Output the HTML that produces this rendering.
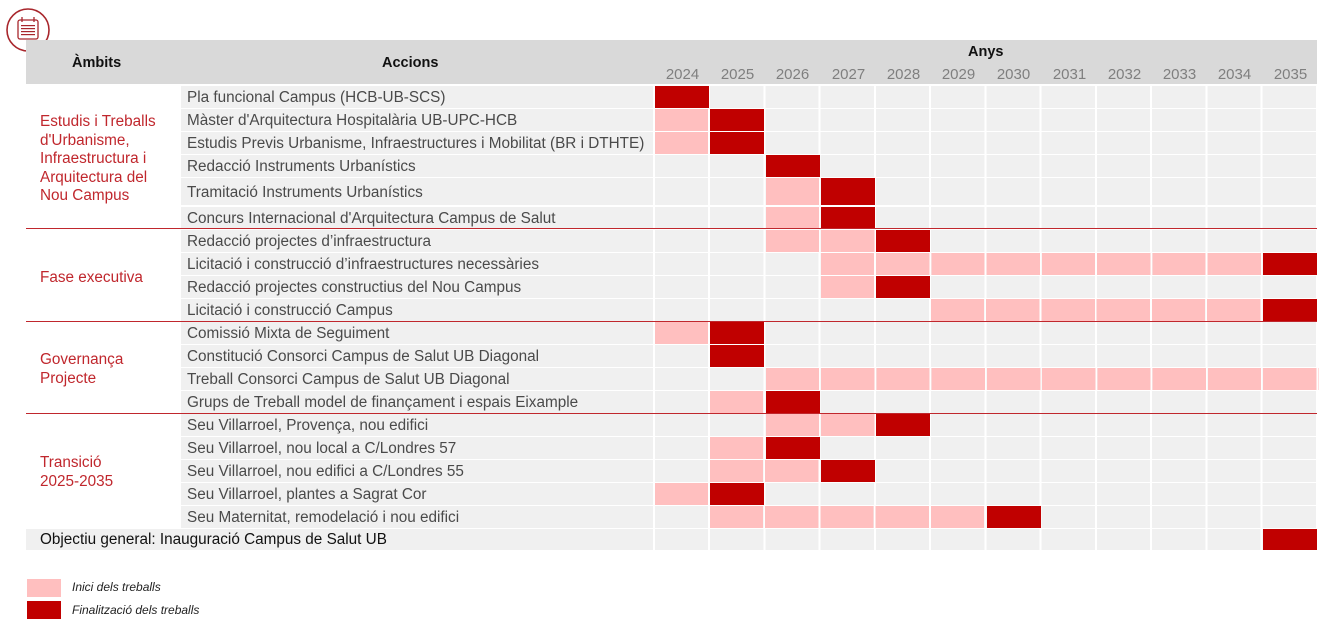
<!DOCTYPE html>
<html><head><meta charset="utf-8"><style>
body{margin:0;width:1325px;height:625px;background:#fff;position:relative;overflow:hidden;font-family:"Liberation Sans",Arial,sans-serif}
.a{position:absolute}
.hd{left:26px;top:40px;width:1291px;height:44px;background:#d9d9d9}
.h{font-weight:bold;font-size:14.5px;color:#111}
.yr{font-size:15px;color:#7f7f7f;width:55px;text-align:center;top:66px}
.r{position:absolute;left:181px;width:1136px}
.r .t{position:absolute;left:0;top:0;bottom:0;width:472px;background:#f0f0f0;font-size:15.3px;color:#4a4a4a;padding-left:6px;padding-top:2px;box-sizing:border-box;display:flex;align-items:center;white-space:nowrap}
.r .g{position:absolute;left:474px;top:0;bottom:0;width:663px;background:repeating-linear-gradient(to right,#f0f0f0 0,#f0f0f0 53.25px,#fff 53.25px,#fff 55.25px)}
.b{position:absolute;top:0;bottom:0;width:54px}
.p{background:repeating-linear-gradient(to right,#ffbfbf 0,#ffbfbf 53.25px,transparent 53.25px,transparent 55.25px)}.d{background:#c00000}
.lg.p{background:#ffbfbf}
.ln{position:absolute;left:26px;width:1291px;height:1px;background:#c0272d}
.grp{position:absolute;left:40px;font-size:15.3px;color:#c0272d;line-height:18.5px}
.lg{position:absolute;left:27px;width:34px;height:18px}
.lt{position:absolute;left:72px;font-size:12px;font-style:italic;color:#222}
</style></head><body>
<svg class="a" style="left:5px;top:7px" width="46" height="46" viewBox="0 0 46 46">
<circle cx="23" cy="23" r="21" fill="none" stroke="#a8262c" stroke-width="1.6"/>
<rect x="13" y="13" width="20" height="19" rx="2" fill="none" stroke="#a8262c" stroke-width="1.3"/>
<line x1="17" y1="10" x2="17" y2="15" stroke="#a8262c" stroke-width="1.3"/>
<line x1="29" y1="10" x2="29" y2="15" stroke="#a8262c" stroke-width="1.3"/>
<g fill="#a8262c"><rect x="16" y="18" width="14" height="1.2"/><rect x="16" y="21" width="14" height="1.2"/><rect x="16" y="24" width="14" height="1.2"/><rect x="16" y="27" width="14" height="1.2"/></g>
</svg>
<div class="a hd"></div>
<div class="a h" style="left:72px;top:55px">Àmbits</div>
<div class="a h" style="left:382px;top:55px">Accions</div>
<div class="a h" style="left:968px;top:44px">Anys</div>
<div class="a yr" style="left:655px">2024</div><div class="a yr" style="left:710px">2025</div><div class="a yr" style="left:765px">2026</div><div class="a yr" style="left:821px">2027</div><div class="a yr" style="left:876px">2028</div><div class="a yr" style="left:931px">2029</div><div class="a yr" style="left:986px">2030</div><div class="a yr" style="left:1042px">2031</div><div class="a yr" style="left:1097px">2032</div><div class="a yr" style="left:1152px">2033</div><div class="a yr" style="left:1207px">2034</div><div class="a yr" style="left:1263px">2035</div>

<div class="r" style="top:86px;height:22px"><div class="t">Pla funcional Campus (HCB-UB-SCS)</div><div class="g"><div class="b d" style="left:0"></div></div></div>
<div class="r" style="top:109px;height:22px"><div class="t">Màster d'Arquitectura Hospitalària UB-UPC-HCB</div><div class="g"><div class="b p" style="left:0"></div><div class="b d" style="left:55.25px"></div></div></div>
<div class="r" style="top:132px;height:22px"><div class="t">Estudis Previs Urbanisme, Infraestructures i Mobilitat (BR i DTHTE)</div><div class="g"><div class="b p" style="left:0"></div><div class="b d" style="left:55.25px"></div></div></div>
<div class="r" style="top:155px;height:22px"><div class="t">Redacció Instruments Urbanístics</div><div class="g"><div class="b d" style="left:110.5px"></div></div></div>
<div class="r" style="top:178px;height:27px"><div class="t">Tramitació Instruments Urbanístics</div><div class="g"><div class="b p" style="left:110.5px"></div><div class="b d" style="left:165.75px"></div></div></div>
<div class="r" style="top:207px;height:21px"><div class="t">Concurs Internacional d'Arquitectura Campus de Salut</div><div class="g"><div class="b p" style="left:110.5px"></div><div class="b d" style="left:165.75px"></div></div></div>
<div class="ln" style="top:228px"></div>
<div class="r" style="top:230px;height:22px"><div class="t">Redacció projectes d’infraestructura</div><div class="g"><div class="b p" style="left:110.5px;width:110px"></div><div class="b d" style="left:221px"></div></div></div>
<div class="r" style="top:253px;height:22px"><div class="t">Licitació i construcció d’infraestructures necessàries</div><div class="g"><div class="b p" style="left:165.75px;width:442px"></div><div class="b d" style="left:607.75px"></div></div></div>
<div class="r" style="top:276px;height:22px"><div class="t">Redacció projectes constructius del Nou Campus</div><div class="g"><div class="b p" style="left:165.75px"></div><div class="b d" style="left:221px"></div></div></div>
<div class="r" style="top:299px;height:22px"><div class="t">Licitació i construcció Campus</div><div class="g"><div class="b p" style="left:276.25px;width:331px"></div><div class="b d" style="left:607.75px"></div></div></div>
<div class="ln" style="top:321px"></div>
<div class="r" style="top:322px;height:22px"><div class="t">Comissió Mixta de Seguiment</div><div class="g"><div class="b p" style="left:0"></div><div class="b d" style="left:55.25px"></div></div></div>
<div class="r" style="top:345px;height:22px"><div class="t">Constitució Consorci Campus de Salut UB Diagonal</div><div class="g"><div class="b d" style="left:55.25px"></div></div></div>
<div class="r" style="top:368px;height:22px"><div class="t">Treball Consorci Campus de Salut UB Diagonal</div><div class="g"><div class="b p" style="left:110.5px;width:553px"></div></div></div>
<div class="r" style="top:391px;height:22px"><div class="t">Grups de Treball model de finançament i espais Eixample</div><div class="g"><div class="b p" style="left:55.25px"></div><div class="b d" style="left:110.5px"></div></div></div>
<div class="ln" style="top:413px"></div>
<div class="r" style="top:414px;height:22px"><div class="t">Seu Villarroel, Provença, nou edifici</div><div class="g"><div class="b p" style="left:110.5px;width:110px"></div><div class="b d" style="left:221px"></div></div></div>
<div class="r" style="top:437px;height:22px"><div class="t">Seu Villarroel, nou local a C/Londres 57</div><div class="g"><div class="b p" style="left:55.25px"></div><div class="b d" style="left:110.5px"></div></div></div>
<div class="r" style="top:460px;height:22px"><div class="t">Seu Villarroel, nou edifici a C/Londres 55</div><div class="g"><div class="b p" style="left:55.25px;width:110px"></div><div class="b d" style="left:165.75px"></div></div></div>
<div class="r" style="top:483px;height:22px"><div class="t">Seu Villarroel, plantes a Sagrat Cor</div><div class="g"><div class="b p" style="left:0"></div><div class="b d" style="left:55.25px"></div></div></div>
<div class="r" style="top:506px;height:22px"><div class="t">Seu Maternitat, remodelació i nou edifici</div><div class="g"><div class="b p" style="left:55.25px;width:276px"></div><div class="b d" style="left:331.5px"></div></div></div>
<div class="a" style="left:26px;top:529px;width:627px;height:21px;background:#f0f0f0"></div>
<div class="a" style="left:40px;top:531px;font-size:15.3px;color:#111">Objectiu general: Inauguració Campus de Salut UB</div>
<div class="r" style="top:529px;height:21px;left:181px"><div class="g"><div class="b d" style="left:607.75px"></div></div></div>

<div class="grp" style="top:113px">Estudis i Treballs<br>d'Urbanisme,<br>Infraestructura i<br>Arquitectura del<br>Nou Campus</div>
<div class="grp" style="top:269px">Fase executiva</div>
<div class="grp" style="top:351px">Governança<br>Projecte</div>
<div class="grp" style="top:454px">Transició<br>2025-2035</div>

<div class="lg p" style="top:579px"></div><div class="lt" style="top:580px">Inici dels treballs</div>
<div class="lg d" style="top:601px"></div><div class="lt" style="top:603px">Finalització dels treballs</div>
</body></html>
